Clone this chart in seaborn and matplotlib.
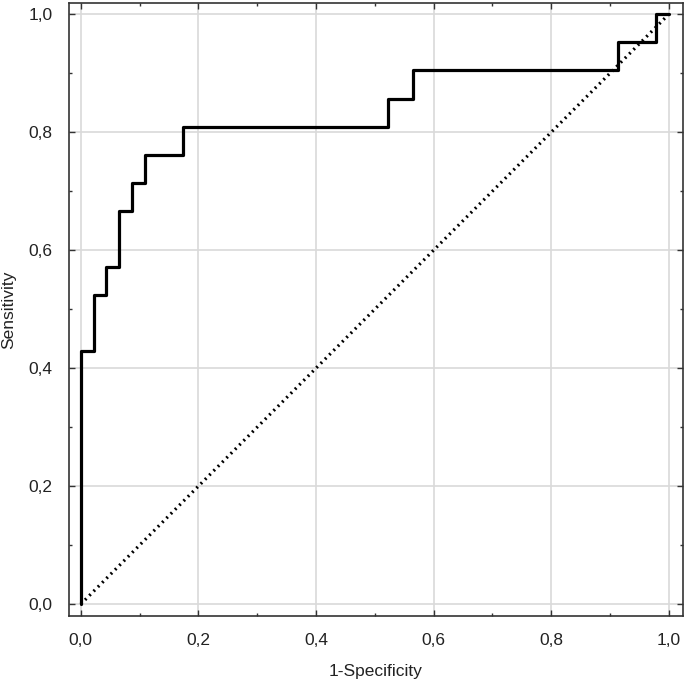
import numpy as np
import pandas as pd
import matplotlib
matplotlib.use("Agg")
import matplotlib.pyplot as plt
import seaborn as sns
from matplotlib.ticker import FuncFormatter, MultipleLocator

# ROC staircase vertices (1-Specificity, Sensitivity)
fpr = [0.0, 0.0, 0.0217, 0.0217, 0.0435, 0.0435, 0.0652, 0.0652, 0.0870, 0.0870,
       0.1087, 0.1087, 0.1739, 0.1739, 0.5217, 0.5217, 0.5652, 0.5652, 0.9130,
       0.9130, 0.9783, 0.9783, 1.0]
tpr = [0.0, 0.4286, 0.4286, 0.5238, 0.5238, 0.5714, 0.5714, 0.6667, 0.6667, 0.7143,
       0.7143, 0.7619, 0.7619, 0.8095, 0.8095, 0.8571, 0.8571, 0.9048, 0.9048,
       0.9524, 0.9524, 1.0, 1.0]
diag = [0.0, 1.0]

sns.set_style("whitegrid")
plt.rcParams["font.family"] = ["Liberation Sans", "DejaVu Sans"]

fig = plt.figure(figsize=(6.85, 6.82), dpi=100)
ax = fig.add_axes([0.1007, 0.0968, 0.8963, 0.8988])

roc = pd.DataFrame({"fpr": fpr, "tpr": tpr})
sns.lineplot(data=roc, x="fpr", y="tpr", sort=False, estimator=None,
             color="black", linewidth=2.3, ax=ax)
sns.lineplot(x=diag, y=diag, sort=False, estimator=None, color="black",
             linewidth=2.3, linestyle=(0, (0.6, 1.3)), ax=ax)

ax.set_xlim(-0.02, 1.024)
ax.set_ylim(-0.02, 1.019)
ax.xaxis.set_major_locator(MultipleLocator(0.2))
ax.yaxis.set_major_locator(MultipleLocator(0.2))
ax.xaxis.set_minor_locator(MultipleLocator(0.1))
ax.yaxis.set_minor_locator(MultipleLocator(0.1))
fmt = FuncFormatter(lambda v, p: f"{v:.1f}".replace(".", ","))
ax.xaxis.set_major_formatter(fmt)
ax.yaxis.set_major_formatter(fmt)

ax.grid(True, which="major", color="#d9d9d9", linewidth=1.2)
ax.grid(False, which="minor")
ax.tick_params(which="major", direction="in", top=True, right=True,
               bottom=True, left=True, length=4, width=1.0, color="#333333",
               labelsize=12.5, labelcolor="#222222", pad=12)
ax.tick_params(which="minor", direction="in", top=True, right=True,
               bottom=True, left=True, length=2.5, width=1.0, color="#333333")
for s in ax.spines.values():
    s.set_color("#333333")
    s.set_linewidth(1.2)

ax.set_xlabel("1-Specificity", fontsize=12.5, color="#222222", labelpad=12)
ax.set_ylabel("Sensitivity", fontsize=12.5, color="#222222", labelpad=9)

fig.savefig("out.png", dpi=100)
